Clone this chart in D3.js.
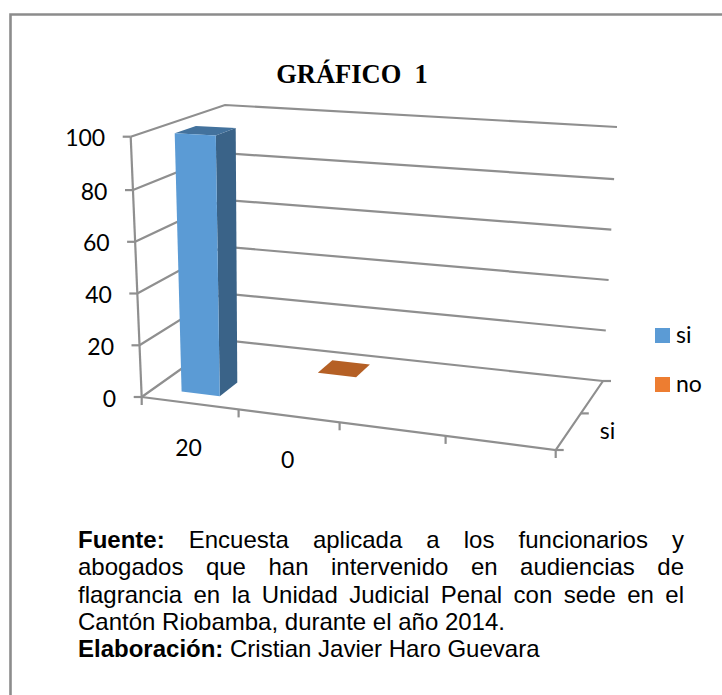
<!DOCTYPE html>
<html><head><meta charset="utf-8">
<script src="https://cdn.jsdelivr.net/npm/d3@7"></script>
<style>html,body{margin:0;padding:0;background:#fff}svg{display:block}</style>
</head><body><svg id="c" width="722" height="695"></svg>
<script>
const chartTitle = "GRÁFICO  1";
const categories = ["20", "0", "", ""];
const seriesNames = ["si", "no"];
const seriesColors = ["#5b9bd5", "#ed7d31"];
const siValues = [100, null, null, null];
const noValues = [null, 0, null, null];
const yTicks = [0, 20, 40, 60, 80, 100];
const depthLabels = ["si"];
const sourceLines = [
  [["Fuente:", true], ["Encuesta aplicada a los funcionarios y", false]],
  [["abogados que han intervenido en audiencias de", false]],
  [["flagrancia en la Unidad Judicial Penal con sede en el", false]],
  [["Cantón Riobamba, durante el año 2014.", false]],
  [["Elaboración:", true], ["Cristian Javier Haro Guevara", false]]
];
const justified = [true, true, true, false, false];

const svg = d3.select("#c");
const INK = "#000", AXIS = "#8f8f8f";

// frame
svg.append("path").attr("d", "M10.5 695V14.5H722").attr("fill", "none").attr("stroke", "#8c8c8c").attr("stroke-width", 2.6);

// 3D box corners in px
const box = {
  f0b:[141.7,397], f1b:[555.7,450], b0b:[222,340], b1b:[603,381],
  f0t:[130.7,136.7], f1t:[578,160], b0t:[225,105], b1t:[617,127]
};
const lerp = (a,b,t)=>[a[0]+(b[0]-a[0])*t, a[1]+(b[1]-a[1])*t];
const uScale = d3.scaleLinear().domain([0,1,2,3,4]).range([0,.234,.478,.734,1]);
const vScale = d3.scaleLinear().domain([0,.5,1.5,2]).range([0,.28,.78,1]);
const wScale = d3.scaleLinear().domain([0,80,100]).range([0,.795,1]);
function P(c,s,val){
  const u=uScale(c), v=vScale(s), w=wScale(val);
  const fb=lerp(box.f0b,box.f1b,u), bb=lerp(box.b0b,box.b1b,u);
  const ft=lerp(box.f0t,box.f1t,u), bt=lerp(box.b0t,box.b1t,u);
  return lerp(lerp(fb,bb,v),lerp(ft,bt,v),w);
}
const line = pts => "M"+pts.map(p=>p[0].toFixed(1)+" "+p[1].toFixed(1)).join("L");
const nC = categories.length, nS = seriesNames.length;
const axisG = svg.append("g").attr("fill","none").attr("stroke",AXIS).attr("stroke-width",2.2);

yTicks.forEach(t=>{
  axisG.append("path").attr("d",line([P(0,0,t),P(0,nS,t),P(nC,nS,t)]));
  const a=P(0,0,t);
  axisG.append("path").attr("d",line([[a[0]-8,a[1]],a]));
});
axisG.append("path").attr("d",line([P(0,0,0),P(0,0,100)]));
axisG.append("path").attr("d",line([P(0,0,0),P(nC,0,0),P(nC,nS,0)]));
d3.range(nC+1).forEach(i=>{ const a=P(i,0,0); axisG.append("path").attr("d",line([a,[a[0],a[1]+8]])); });
d3.range(nS+1).forEach(i=>{ const a=P(nC,i,0); axisG.append("path").attr("d",line([a,[a[0]+8,a[1]]])); });

// Bars
const bw=.40, bd=.44;
function bar(c,s,val,col){
  const cm=c+.5+(s?.02:-.015), sm=s+.5;
  const c0=cm-bw/2,c1=cm+bw/2,s0=sm-bd/2,s1=sm+bd/2;
  const g=svg.append("g");
  const d=d3.color(col);
  if(val>0){
    g.append("path").attr("d",line([P(c1,s0,0),P(c1,s1,0),P(c1,s1,val),P(c1,s0,val)])+"Z").attr("fill",d.darker(1.25).formatHex());
    g.append("path").attr("d",line([P(c0,s0,val),P(c1,s0,val),P(c1,s1,val),P(c0,s1,val)])+"Z").attr("fill",d.darker(.85).formatHex());
    g.append("path").attr("d",line([P(c0,s0,0),P(c1,s0,0),P(c1,s0,val),P(c0,s0,val)])+"Z").attr("fill",col);
  } else {
    g.append("path").attr("d",line([P(c0,s0,0),P(c1,s0,0),P(c1,s1,0),P(c0,s1,0)])+"Z").attr("fill",d.darker(.75).formatHex());
  }
}
noValues.forEach((v,i)=>{ if(v!==null) bar(i,1,v,seriesColors[1]); });
siValues.forEach((v,i)=>{ if(v!==null) bar(i,0,v,seriesColors[0]); });

// Text
const CAL="Lato, Carlito, sans-serif";
const txt=(x,y,s,o={})=>svg.append("text").attr("x",x).attr("y",y).text(s)
  .attr("font-family",o.f||CAL).attr("font-size",o.s||23).attr("font-weight",o.w||400)
  .attr("text-anchor",o.a||"start").attr("fill",INK);
txt(352,82.5,chartTitle,{f:"'Liberation Serif',serif",s:26.5,w:700,a:"middle"}).style("white-space","pre");
yTicks.forEach(t=>{ const a=P(0,0,t); txt(a[0]-25.5,a[1]+9.5,t,{a:"end"}); });
categories.forEach((c,i)=>{ if(!c) return; const a=P(i+.5,0,0); txt(a[0]-1.5,a[1]+52.5,c,{a:"middle"}); });
depthLabels.forEach((c,i)=>{ const a=P(nC,i+1,0); txt(a[0]+19,a[1]+26,c); });

// legend
const legY=d3.scalePoint().domain(seriesNames).range([335.5,384.5]);
seriesNames.forEach((n,i)=>{
  svg.append("rect").attr("x",655).attr("y",legY(n)-7.5).attr("width",15).attr("height",15).attr("fill",seriesColors[i]);
  txt(676,legY(n)+7.5,n);
});

// source
const left=78,right=684,FS=24,SF="'Liberation Sans',Arial,sans-serif";
const baseY=d3.scaleLinear().domain([0,4]).range([548,657]);
sourceLines.forEach((runs,i)=>{
  const t=svg.append("text").attr("x",left).attr("y",baseY(i)).attr("font-family",SF).attr("font-size",FS).attr("fill",INK);
  runs.forEach((r,j)=>{ t.append("tspan").attr("font-weight",r[1]?700:400).text((j?" ":"")+r[0]); });
  if(justified[i]){
    const len=t.node().getComputedTextLength();
    const gaps=runs.map(r=>r[0]).join(" ").split(" ").length-1;
    t.attr("word-spacing",(right-left-len)/gaps);
  }
});
</script></body></html>
